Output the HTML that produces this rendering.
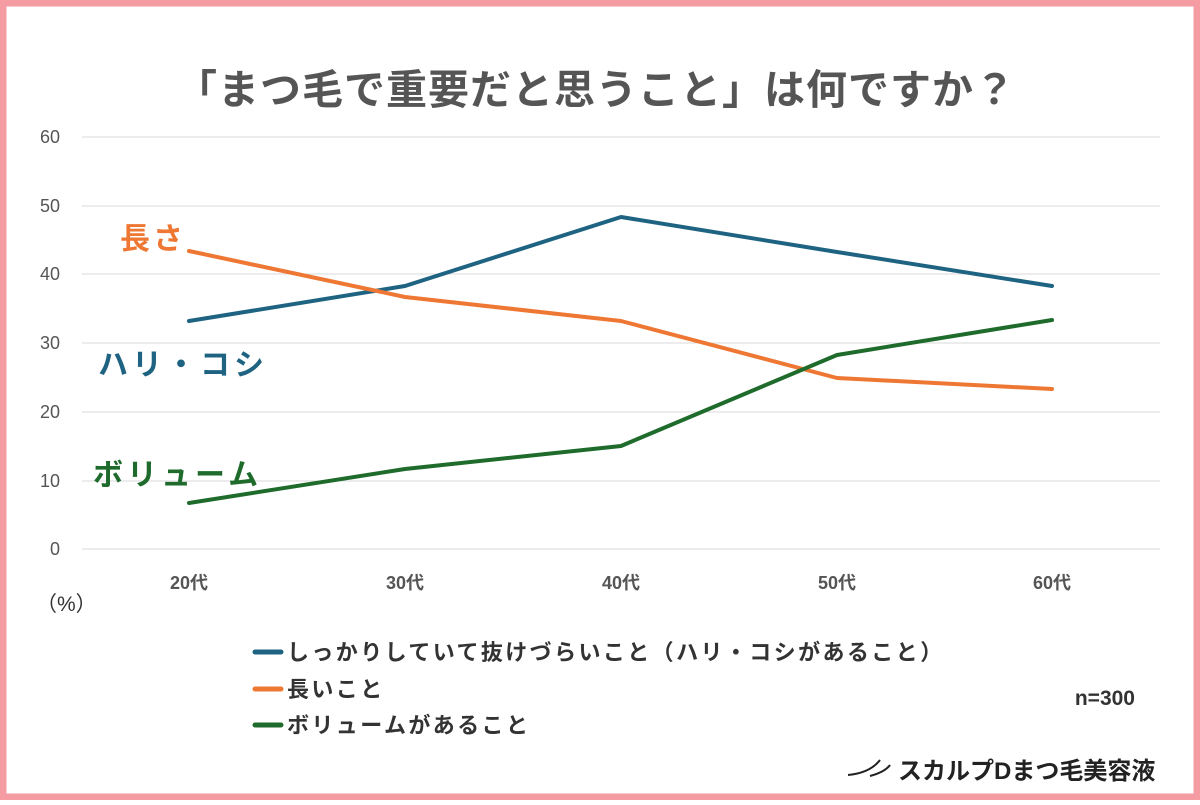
<!DOCTYPE html>
<html><head><meta charset="utf-8"><style>
body{margin:0;width:1200px;height:800px;overflow:hidden;background:#fff}
</style></head><body>
<svg width="1200" height="800" xmlns="http://www.w3.org/2000/svg" font-family="'Liberation Sans','Noto Sans CJK JP',sans-serif">
<rect x="3" y="3" width="1194" height="794" fill="#fff" stroke="#f59ca2" stroke-width="7"/>
<text x="596" y="104" text-anchor="middle" font-size="41" font-weight="bold" fill="#555" letter-spacing="1">「まつ毛で重要だと思うこと」は何ですか？</text>
<g stroke="#d9d9d9" stroke-width="1">
<line x1="82" y1="137" x2="1160" y2="137"/><line x1="82" y1="206" x2="1160" y2="206"/>
<line x1="82" y1="274" x2="1160" y2="274"/><line x1="82" y1="343" x2="1160" y2="343"/>
<line x1="82" y1="412" x2="1160" y2="412"/><line x1="82" y1="481" x2="1160" y2="481"/>
<line x1="82" y1="549" x2="1160" y2="549"/></g>
<g font-size="18" fill="#555" text-anchor="end">
<text x="60" y="143">60</text><text x="60" y="212">50</text><text x="60" y="280">40</text>
<text x="60" y="349">30</text><text x="60" y="418">20</text><text x="60" y="487">10</text><text x="60" y="555">0</text></g>
<g font-size="18" fill="#555" text-anchor="middle" font-weight="bold">
<text x="189" y="589">20代</text><text x="405" y="589">30代</text><text x="621" y="589">40代</text>
<text x="837" y="589">50代</text><text x="1052" y="589">60代</text></g>
<text x="36" y="611" font-size="21" fill="#333">（%）</text>
<g fill="none" stroke-width="4" stroke-linejoin="round" stroke-linecap="round">
<polyline stroke="#1f6382" points="189,321 405,286 621,217 837,252 1052,286"/>
<polyline stroke="#ee7733" points="189,251 405,297 621,321 837,378 1052,389"/>
<polyline stroke="#1e6b2c" points="189,503 405,469 621,446 837,355 1052,320"/>
</g>
<text x="120" y="249" font-size="30" font-weight="bold" fill="#ee7733" letter-spacing="3">長さ</text>
<text x="98" y="375" font-size="30" font-weight="bold" fill="#1f6382" letter-spacing="4">ハリ・コシ</text>
<text x="93" y="485" font-size="30" font-weight="bold" fill="#1e6b2c" letter-spacing="4">ボリューム</text>
<g stroke-width="5" stroke-linecap="round">
<line x1="255" y1="652" x2="281" y2="652" stroke="#1f6382"/>
<line x1="255" y1="689" x2="281" y2="689" stroke="#ee7733"/>
<line x1="255" y1="725" x2="281" y2="725" stroke="#1e6b2c"/></g>
<g font-size="22" fill="#333" font-weight="bold" letter-spacing="2.4">
<text x="287" y="660">しっかりしていて抜けづらいこと（ハリ・コシがあること）</text>
<text x="287" y="697">長いこと</text>
<text x="287" y="733">ボリュームがあること</text></g>
<text x="1135" y="705" text-anchor="end" font-size="21" font-weight="bold" fill="#333">n=300</text>
<path d="M848 775 Q870 773 880 760 M870 776 Q885 772 890 765" stroke="#222" stroke-width="2" fill="none"/>
<text x="898" y="779" font-size="24" font-weight="bold" fill="#222">スカルプDまつ毛美容液</text>
</svg>
</body></html>
